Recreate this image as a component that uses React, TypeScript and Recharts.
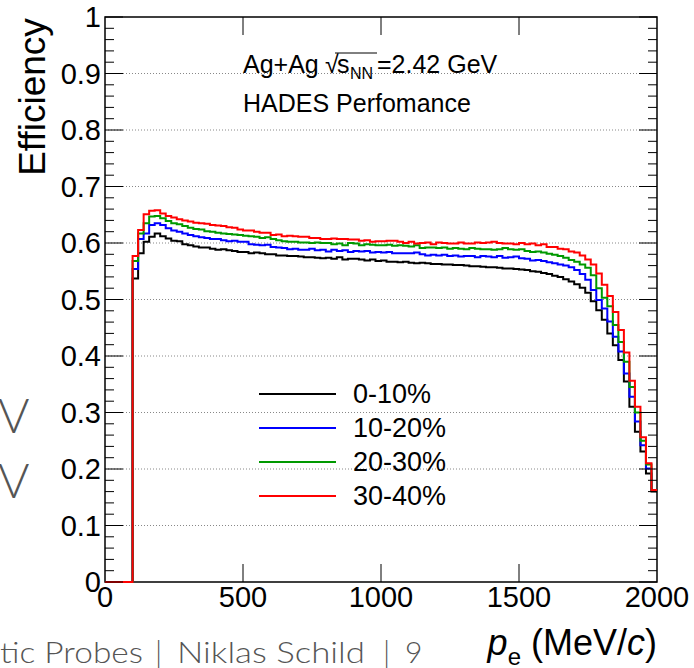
import { LineChart, Line, XAxis, YAxis, CartesianGrid, ReferenceArea, Legend } from 'recharts'

// lower edges of the 20 MeV/c bins, first filled bin starts at 100
const binLow = Array.from({ length: 95 }, (_, i) => 100 + 20 * i)

const eff0to10 = [
  0.537, 0.582, 0.602, 0.611, 0.617, 0.612, 0.608, 0.604, 0.603, 0.598,
  0.596, 0.594, 0.592, 0.592, 0.590, 0.588, 0.589, 0.587, 0.586, 0.584,
  0.584, 0.582, 0.583, 0.582, 0.580, 0.580, 0.578, 0.578, 0.577, 0.577,
  0.576, 0.575, 0.575, 0.574, 0.573, 0.574, 0.572, 0.575, 0.571, 0.572,
  0.572, 0.571, 0.569, 0.571, 0.568, 0.569, 0.567, 0.567, 0.566, 0.567,
  0.565, 0.564, 0.565, 0.564, 0.563, 0.563, 0.562, 0.562, 0.561, 0.561,
  0.560, 0.559, 0.559, 0.558, 0.557, 0.557, 0.556, 0.555, 0.555, 0.554,
  0.553, 0.552, 0.550, 0.549, 0.547, 0.545, 0.542, 0.540, 0.536, 0.532,
  0.527, 0.521, 0.512, 0.497, 0.481, 0.464, 0.440, 0.419, 0.393, 0.355,
  0.310, 0.266, 0.231, 0.192, 0.160,
]

const eff10to20 = [
  0.554, 0.607, 0.617, 0.632, 0.635, 0.632, 0.626, 0.622, 0.620, 0.617,
  0.614, 0.612, 0.610, 0.609, 0.607, 0.607, 0.605, 0.603, 0.604, 0.602,
  0.602, 0.598, 0.597, 0.596, 0.597, 0.593, 0.592, 0.591, 0.589, 0.590,
  0.588, 0.588, 0.590, 0.587, 0.588, 0.585, 0.588, 0.586, 0.587, 0.584,
  0.586, 0.585, 0.586, 0.583, 0.584, 0.583, 0.584, 0.582, 0.582, 0.582,
  0.582, 0.583, 0.580, 0.578, 0.579, 0.578, 0.579, 0.577, 0.578, 0.576,
  0.577, 0.577, 0.575, 0.577, 0.576, 0.575, 0.577, 0.574, 0.575, 0.576,
  0.573, 0.572, 0.569, 0.570, 0.568, 0.566, 0.564, 0.562, 0.560, 0.557,
  0.552, 0.545, 0.535, 0.517, 0.499, 0.484, 0.461, 0.434, 0.408, 0.369,
  0.328, 0.284, 0.242, 0.201, 0.163,
]

const eff20to30 = [
  0.568, 0.617, 0.635, 0.647, 0.648, 0.644, 0.639, 0.635, 0.633, 0.630,
  0.627, 0.625, 0.624, 0.621, 0.620, 0.618, 0.617, 0.616, 0.615, 0.614,
  0.613, 0.612, 0.611, 0.609, 0.610, 0.607, 0.605, 0.603, 0.602, 0.602,
  0.601, 0.601, 0.600, 0.601, 0.600, 0.600, 0.598, 0.599, 0.596, 0.600,
  0.599, 0.596, 0.598, 0.597, 0.596, 0.596, 0.597, 0.595, 0.596, 0.595,
  0.594, 0.596, 0.591, 0.592, 0.592, 0.591, 0.592, 0.590, 0.591, 0.590,
  0.589, 0.591, 0.590, 0.589, 0.589, 0.588, 0.589, 0.591, 0.589, 0.588,
  0.589, 0.586, 0.584, 0.585, 0.583, 0.581, 0.579, 0.577, 0.574, 0.570,
  0.567, 0.562, 0.556, 0.543, 0.520, 0.503, 0.488, 0.455, 0.425, 0.390,
  0.345, 0.300, 0.250, 0.208, 0.163,
]

const eff30to40 = [
  0.577, 0.623, 0.651, 0.657, 0.658, 0.652, 0.648, 0.645, 0.642, 0.640,
  0.638, 0.636, 0.635, 0.634, 0.632, 0.631, 0.630, 0.628, 0.627, 0.624,
  0.622, 0.622, 0.620, 0.618, 0.618, 0.614, 0.615, 0.612, 0.613, 0.612,
  0.611, 0.611, 0.609, 0.609, 0.607, 0.607, 0.608, 0.607, 0.607, 0.606,
  0.606, 0.604, 0.605, 0.602, 0.603, 0.603, 0.604, 0.604, 0.602, 0.600,
  0.602, 0.599, 0.600, 0.601, 0.598, 0.601, 0.600, 0.599, 0.599, 0.601,
  0.599, 0.599, 0.601, 0.600, 0.601, 0.602, 0.600, 0.599, 0.599, 0.598,
  0.600, 0.598, 0.599, 0.596, 0.598, 0.593, 0.593, 0.590, 0.589, 0.585,
  0.583, 0.578, 0.571, 0.562, 0.546, 0.526, 0.506, 0.478, 0.446, 0.406,
  0.356, 0.310, 0.256, 0.210, 0.163,
]

const series = [
  { key: 'c0', name: '0-10%', color: '#000000', values: eff0to10 },
  { key: 'c1', name: '10-20%', color: '#0000ff', values: eff10to20 },
  { key: 'c2', name: '20-30%', color: '#009900', values: eff20to30 },
  { key: 'c3', name: '30-40%', color: '#ff0000', values: eff30to40 },
]

const xTicks = [0, 500, 1000, 1500, 2000]
const yTicks = Array.from({ length: 51 }, (_, i) => Math.round(i * 2) / 100)
const gridValues = [0.1, 0.2, 0.3, 0.4, 0.5, 0.6, 0.7, 0.8, 0.9]

// rows for the step lines: empty range from 0, the bins, and a closing point at 2000
const rows: Record<string, number>[] = [
  { x: 0, c0: 0, c1: 0, c2: 0, c3: 0 },
  ...binLow.map((x, i) => ({ x, c0: eff0to10[i], c1: eff10to20[i], c2: eff20to30[i], c3: eff30to40[i] })),
  { x: 2000, c0: eff0to10[94], c1: eff10to20[94], c2: eff20to30[94], c3: eff30to40[94] },
]

const W = 694
const H = 668
const margin = { top: 17, right: 37, bottom: 0, left: 0 }
const Y_AXIS_W = 105
const X_AXIS_H = 86
const PLOT_L = margin.left + Y_AXIS_W
const PLOT_R = W - margin.right
const PLOT_T = margin.top
const PLOT_B = H - margin.bottom - X_AXIS_H
const FONT = '"Liberation Sans", Arial, Helvetica, sans-serif'
const SLIDE_FONT = 'Lato, "Open Sans", sans-serif'

const yLabel = (v: number) => (v === 0 ? '0' : v === 1 ? '1' : v.toFixed(1))

const YTick = (props: any) => {
  const { y, payload } = props
  const v = payload.value
  const major = Math.round(v * 100) % 10 === 0
  const len = major ? 18 : 9
  return (
    <g>
      <line x1={PLOT_L} x2={PLOT_L + len} y1={y} y2={y} stroke="#000" strokeWidth={1} />
      <line x1={PLOT_R - len} x2={PLOT_R} y1={y} y2={y} stroke="#000" strokeWidth={1} />
      {major && (
        <text x={PLOT_L - 4} y={y} dy="0.36em" textAnchor="end" fontSize={29} fill="#000" fontFamily={FONT}>
          {yLabel(v)}
        </text>
      )}
    </g>
  )
}

const XTick = (props: any) => {
  const { x, payload } = props
  const v = payload.value
  const inner = v > 0 && v < 2000
  return (
    <g>
      {inner && <line x1={x} x2={x} y1={PLOT_B} y2={PLOT_B - 18} stroke="#000" strokeWidth={1} />}
      {inner && <line x1={x} x2={x} y1={PLOT_T} y2={PLOT_T + 18} stroke="#000" strokeWidth={1} />}
      <text x={x} y={PLOT_B + 25} textAnchor="middle" fontSize={29} fill="#000" fontFamily={FONT}>
        {v}
      </text>
    </g>
  )
}

const LegendBox = () => (
  <div style={{ fontFamily: FONT }}>
    {series.map((s) => (
      <div key={s.key} style={{ display: 'flex', alignItems: 'center', height: 34 }}>
        <div style={{ width: 77, height: 0, borderTop: `2px solid ${s.color}` }} />
        <span style={{ marginLeft: 17, fontSize: 27, color: '#000', lineHeight: '34px' }}>{s.name}</span>
      </div>
    ))}
  </div>
)

export default function App() {
  return (
    <div style={{ position: 'absolute', left: 0, top: 0, width: W, height: H, background: '#fff', overflow: 'hidden' }}>
      <LineChart width={W} height={H} data={rows} margin={margin}>
        <CartesianGrid horizontal vertical={false} horizontalValues={gridValues} stroke="#888" strokeDasharray="1 2" />
        <XAxis
          dataKey="x"
          type="number"
          domain={[0, 2000]}
          ticks={xTicks}
          interval={0}
          height={X_AXIS_H}
          axisLine={false}
          tickLine={false}
          tickSize={0}
          tickMargin={0}
          tick={<XTick />}
        />
        <YAxis
          type="number"
          domain={[0, 1]}
          ticks={yTicks}
          interval={0}
          width={Y_AXIS_W}
          axisLine={false}
          tickLine={false}
          tickSize={0}
          tickMargin={0}
          tick={<YTick />}
        />
        <ReferenceArea x1={0} x2={2000} y1={0} y2={1} fill="none" stroke="#000" strokeWidth={1.5} ifOverflow="visible" />
        {series.map((s) => (
          <Line
            key={s.key}
            dataKey={s.key}
            name={s.name}
            type="stepAfter"
            stroke={s.color}
            strokeWidth={2}
            dot={false}
            activeDot={false}
            isAnimationActive={false}
          />
        ))}
        <Legend
          layout="vertical"
          align="center"
          verticalAlign="middle"
          content={() => <LegendBox />}
          wrapperStyle={{ position: 'absolute', left: 259, top: 377, width: 220 }}
        />
      </LineChart>
      <svg width={W} height={H} style={{ position: 'absolute', left: 0, top: 0, pointerEvents: 'none' }}>
        <text transform="translate(45, 97) rotate(-90)" textAnchor="middle" fontSize={37} fill="#000" fontFamily={FONT}>
          Efficiency
        </text>
        <text y={73} fontSize={25} fill="#000" fontFamily={FONT}>
          <tspan x={243}>Ag+Ag</tspan>
          <tspan x={325}>√</tspan>
          <tspan x={337}>s</tspan>
          <tspan x={350} dy={6} fontSize={16}>NN</tspan>
          <tspan x={377} dy={-6}>=2.42 GeV</tspan>
        </text>
        <line x1={335} x2={377} y1={53} y2={53} stroke="#000" strokeWidth={1} />
        <text x={243} y={112} fontSize={25} fill="#000" fontFamily={FONT}>
          HADES Perfomance
        </text>
        <text x={657} y={655} textAnchor="end" fontSize={36} fill="#000" fontFamily={FONT}>
          <tspan fontStyle="italic">p</tspan>
          <tspan fontSize={24} dy={10}>e</tspan>
          <tspan dy={-10}> (MeV/</tspan>
          <tspan fontStyle="italic">c</tspan>
          <tspan>)</tspan>
        </text>
        <g fill="#555" fontFamily={SLIDE_FONT} fontWeight={300}>
          <text x={-2} y={433} fontSize={48}>V</text>
          <text x={-2} y={498} fontSize={48}>V</text>
          <text x={0} y={663} fontSize={30} textLength={143} lengthAdjust="spacingAndGlyphs">tic Probes</text>
          <text x={155} y={663} fontSize={30}>|</text>
          <text x={177} y={663} fontSize={30} textLength={188} lengthAdjust="spacingAndGlyphs">Niklas Schild</text>
          <text x={383} y={663} fontSize={30}>|</text>
          <text x={405} y={663} fontSize={30}>9</text>
        </g>
      </svg>
    </div>
  )
}
